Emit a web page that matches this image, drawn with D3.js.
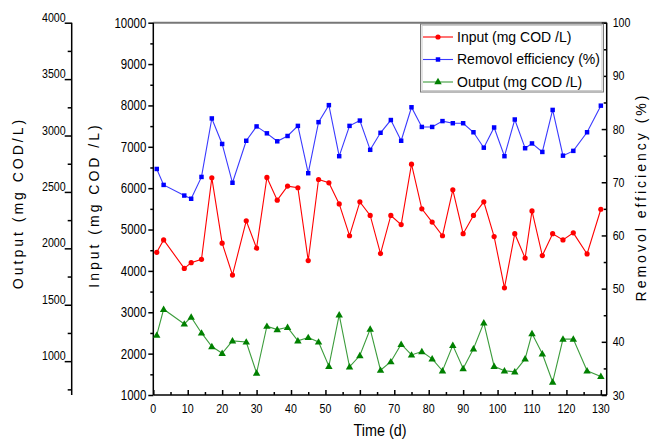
<!DOCTYPE html>
<html>
<head>
    <title>COD Input / Output / Removal</title>
    <script src="https://d3js.org/d3.v7.min.js"></script>
    <style>
        body {
            margin: 0;
            background: #fff;
        }
        svg text {
            fill: #000;
            font-family: "Liberation Sans", Arial, sans-serif;
        }
        .axis-title {
            font-size: 14px;
            letter-spacing: 3px;
        }
        .legend-text {
            font-size: 14px;
        }
    </style>
</head>
<body>
    <svg id="chart" width="653" height="446"></svg>
    <script>
        // Values
        const days = [1, 3, 9, 11, 14, 17, 20, 23, 27, 30, 33, 36, 39, 42, 45, 48, 51, 54, 57, 60,
            63, 66, 69, 72, 75, 78, 81, 84, 87, 90, 93, 96, 99, 102, 105, 108, 110, 113, 116, 119,
            122, 126, 130];
        const inputCOD = [4450, 4750, 4060, 4200, 4280, 6250, 4670, 3900, 5210, 4550, 6260, 5710,
            6050, 6010, 4250, 6210, 6130, 5620, 4850, 5670, 5340, 4420, 5340, 5120, 6580, 5500,
            5180, 4850, 5960, 4900, 5340, 5670, 4830, 3590, 4900, 4310, 5450, 4370, 4900, 4750,
            4920, 4410, 5490];
        const removal = [72.5, 69.5, 67.5, 66.9, 71.0, 82.0, 77.2, 69.9, 77.8, 80.5, 79.2, 77.7,
            78.7, 80.6, 71.7, 81.3, 84.5, 74.9, 80.6, 81.6, 76.1, 79.3, 81.7, 77.8, 84.1, 80.4,
            80.4, 81.5, 81.1, 81.1, 79.4, 76.5, 80.3, 74.9, 81.8, 76.4, 77.3, 75.7, 83.6, 75.0,
            75.9, 79.4, 84.4];
        const outputCOD = [1230, 1460, 1330, 1390, 1250, 1130, 1070, 1180, 1170, 895, 1310, 1280,
            1300, 1180, 1210, 1170, 955, 1410, 950, 1050, 1285, 920, 995, 1150, 1055, 1085, 1020,
            915, 1140, 935, 1110, 1340, 955, 915, 905, 1020, 1245, 1065, 815, 1195, 1195, 915, 865];

        const xTicks = d3.range(0, 131, 10);
        const inputTicks = d3.range(1000, 10001, 1000);
        const removalTicks = d3.range(30, 101, 10);
        const outputTicks = d3.range(1000, 4001, 500);

        const legendNames = ['Input (mg COD /L)', 'Removol efficiency (%)', 'Output (mg COD /L)'];

        const plotL = 153.3, plotR = 606.7, plotT = 22.7, plotB = 395;
        const outAxisX = 71.7;
        const narrow = 0.82; // tick labels in the figure use a condensed face

        const svg = d3.select('#chart');

        const x = d3.scaleLinear().domain([0, 131.7]).range([plotL, plotR]);
        const yIn = d3.scaleLinear().domain([1000, 10000]).range([plotB, plotT]);
        const yRem = d3.scaleLinear().domain([30, 100]).range([plotB, plotT]);
        const yOut = d3.scaleLinear().domain([700, 4000]).range([plotB, plotT]);

        const red = '#ff0000', blue = '#0000ff', green = '#008000';

        function tickLabels(data, fx, fy, anchor, size, dy) {
            svg.append('g').selectAll('text')
                .data(data)
                .join('text')
                .attr('transform', (d) => `translate(${fx(d)},${fy(d)}) scale(${narrow},1)`)
                .attr('dy', dy)
                .attr('text-anchor', anchor)
                .style('font-size', size)
                .text((d) => d);
        }

        // frame
        svg.append('line')
            .attr('x1', plotL).attr('x2', plotR)
            .attr('y1', plotT).attr('y2', plotT)
            .attr('stroke', '#777').attr('stroke-width', 2);

        // bottom axis, ticks pointing inward
        const xAxis = svg.append('g')
            .attr('transform', `translate(0,${plotB})`)
            .call(d3.axisBottom(x).tickValues(d3.range(0, 131, 5)).tickSize(-5).tickFormat(''));
        xAxis.selectAll('.tick line')
            .attr('y2', (d) => d % 10 === 0 ? -5 : -3);
        xAxis.select('.domain').attr('d', `M${plotL},0H${plotR}`);
        tickLabels(xTicks, (d) => x(d), () => plotB + 18, 'middle', '13px', 0);

        // left input axis
        const inAxis = svg.append('g')
            .attr('transform', `translate(${plotL},0)`)
            .call(d3.axisLeft(yIn).tickValues(d3.range(1000, 10001, 500)).tickSize(5).tickFormat(''));
        inAxis.selectAll('.tick line')
            .attr('x2', (d) => d % 1000 === 0 ? -5 : -3);
        inAxis.select('.domain').attr('d', `M0,${plotB}V${plotT}`);
        tickLabels(inputTicks, () => plotL - 7, (d) => yIn(d), 'end', '14px', '0.35em');

        // right removal axis, ticks inward
        const remAxis = svg.append('g')
            .attr('transform', `translate(${plotR},0)`)
            .call(d3.axisRight(yRem).tickValues(d3.range(30, 101, 5)).tickSize(-5).tickFormat(''));
        remAxis.selectAll('.tick line')
            .attr('x2', (d) => d % 10 === 0 ? -5 : -3);
        remAxis.select('.domain').attr('d', `M0,${plotB}V${plotT}`);
        tickLabels(removalTicks, () => plotR + 6, (d) => yRem(d), 'start', '13px', '0.35em');

        // detached output axis
        const outAxis = svg.append('g')
            .attr('transform', `translate(${outAxisX},0)`)
            .call(d3.axisLeft(yOut).tickValues(d3.range(750, 4001, 250)).tickSize(7).tickFormat(''));
        outAxis.selectAll('.tick line')
            .attr('x2', (d) => d % 500 === 0 ? -7 : -4);
        outAxis.select('.domain').attr('d', `M0,${plotB}V${plotT}`);
        tickLabels(outputTicks, () => outAxisX - 6, (d) => yOut(d) - 1, 'end', '13px', 0);

        svg.selectAll('.domain, .tick line')
            .attr('stroke', '#000')
            .attr('stroke-width', 1.5);

        // axis titles
        svg.append('text')
            .attr('class', 'axis-title')
            .attr('transform', 'translate(23,203) rotate(-90)')
            .attr('text-anchor', 'middle')
            .text('Output (mg COD/L)');
        svg.append('text')
            .attr('class', 'axis-title')
            .attr('transform', 'translate(99,205) rotate(-90)')
            .attr('text-anchor', 'middle')
            .text('Input (mg COD /L)');
        svg.append('text')
            .attr('class', 'axis-title')
            .attr('transform', 'translate(646,197) rotate(-90)')
            .attr('text-anchor', 'middle')
            .text('Removol efficiency (%)');
        svg.append('text')
            .attr('transform', `translate(${(plotL + plotR) / 2},436) scale(0.9,1)`)
            .attr('text-anchor', 'middle')
            .style('font-size', '16px')
            .text('Time (d)');

        // series
        const triangle = d3.symbol().type(d3.symbolTriangle).size(24);
        const square = d3.symbol().type(d3.symbolSquare).size(20);

        function drawSeries(values, yScale, lineColor, markColor, kind) {
            const pts = days.map((d, i) => [x(d), yScale(values[i])]);
            svg.append('path')
                .attr('d', d3.line()(pts))
                .attr('fill', 'none')
                .attr('stroke', lineColor)
                .attr('stroke-width', 1.1);
            const g = svg.append('g');
            if (kind === 'circle') {
                g.selectAll('circle').data(pts).join('circle')
                    .attr('cx', (p) => p[0]).attr('cy', (p) => p[1])
                    .attr('r', 2.6).attr('fill', markColor);
            } else {
                g.selectAll('path').data(pts).join('path')
                    .attr('transform', (p) => `translate(${p[0]},${p[1] + (kind === 'tri' ? 0.5 : 0)})`)
                    .attr('d', kind === 'tri' ? triangle : square)
                    .attr('fill', markColor);
            }
        }

        drawSeries(outputCOD, yOut, '#3c9c3c', green, 'tri');
        drawSeries(inputCOD, yIn, red, red, 'circle');
        drawSeries(removal, yRem, '#3a3aff', blue, 'square');

        // legend
        const legend = svg.append('g');
        legend.append('rect')
            .attr('x', 420.5).attr('y', 24).attr('width', 183).attr('height', 68)
            .attr('fill', '#fff').attr('stroke', '#777').attr('stroke-width', 1);
        legend.append('rect')
            .attr('x', 422).attr('y', 25.5).attr('width', 180).attr('height', 65)
            .attr('fill', 'none').attr('stroke', '#ccc').attr('stroke-width', 1);

        const legendColors = [[red, red], ['#3a3aff', blue], ['#3c9c3c', green]];
        const legendKinds = ['circle', 'square', 'tri'];
        const legendY = d3.scalePoint().domain(legendNames).range([37, 82]);

        legendNames.forEach((name, i) => {
            const yy = legendY(name);
            legend.append('line')
                .attr('x1', 423).attr('x2', 453)
                .attr('y1', yy).attr('y2', yy)
                .attr('stroke', legendColors[i][0]).attr('stroke-width', 1.1);
            if (legendKinds[i] === 'circle') {
                legend.append('circle').attr('cx', 438).attr('cy', yy).attr('r', 2.6)
                    .attr('fill', legendColors[i][1]);
            } else {
                legend.append('path')
                    .attr('transform', `translate(438,${yy})`)
                    .attr('d', legendKinds[i] === 'tri' ? triangle : square)
                    .attr('fill', legendColors[i][1]);
            }
            legend.append('text')
                .attr('class', 'legend-text')
                .attr('x', 457)
                .attr('y', yy)
                .attr('dy', '0.35em')
                .text(name);
        });
    </script>
</body>
</html>
